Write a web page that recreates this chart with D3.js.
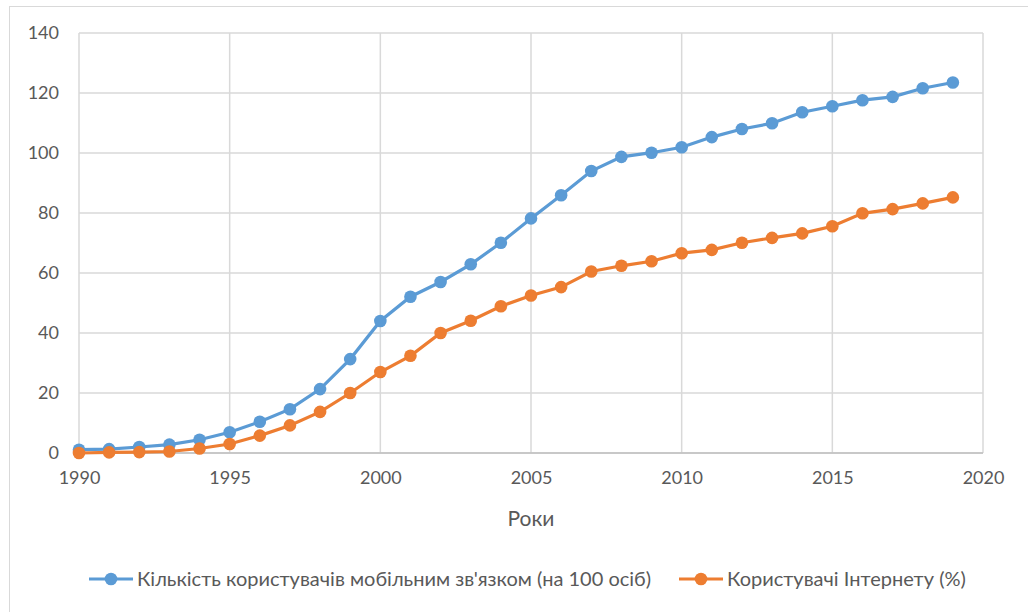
<!DOCTYPE html>
<html>
<head>
<meta charset="utf-8">
<script src="https://cdn.jsdelivr.net/npm/d3@7"></script>
<style>
  body { margin: 0; background: #fff; }
  text { font-family: Lato, "Open Sans", sans-serif; fill: #595959; }
</style>
</head>
<body>
<div id="chart"></div>
<script>
// data
const years = d3.range(1990, 2020);
const mobile = [1.1, 1.3, 2.0, 2.8, 4.4, 6.9, 10.4, 14.6, 21.3, 31.3,
                44.0, 52.1, 57.0, 62.9, 70.1, 78.2, 85.9, 94.0, 98.7, 100.1,
                101.9, 105.3, 108.0, 109.9, 113.6, 115.6, 117.6, 118.7, 121.6, 123.5];
const internet = [0.0, 0.2, 0.3, 0.5, 1.5, 3.0, 5.8, 9.2, 13.7, 20.0,
                  27.0, 32.4, 40.0, 44.1, 48.9, 52.5, 55.3, 60.5, 62.4, 63.9,
                  66.6, 67.7, 70.1, 71.7, 73.2, 75.6, 79.9, 81.3, 83.2, 85.2];
const xTicks = [1990, 1995, 2000, 2005, 2010, 2015, 2020];
const yTicks = [0, 20, 40, 60, 80, 100, 120, 140];
const seriesNames = ["Кількість користувачів мобільним зв'язком (на 100 осіб)", "Користувачі Інтернету (%)"];
const colors = ["#5B9BD5", "#ED7D31"];

const width = 1028, height = 612;
const margin = { top: 33, right: 45, bottom: 159, left: 79 };

const svg = d3.select("#chart").append("svg")
    .attr("width", width)
    .attr("height", height);

// outer chart frame
svg.append("rect")
    .attr("x", 9.5).attr("y", 6.5)
    .attr("width", width + 20).attr("height", height + 20)
    .attr("fill", "none")
    .attr("stroke", "#d9d9d9");

const x = d3.scaleLinear().domain([1990, 2020]).range([margin.left, width - margin.right]);
const y = d3.scaleLinear().domain([0, 140]).range([height - margin.bottom, margin.top]);

// gridlines
svg.append("g").selectAll("line")
    .data(yTicks).enter().append("line")
    .attr("x1", x(1990)).attr("x2", x(2020))
    .attr("y1", d => y(d)).attr("y2", d => y(d))
    .attr("stroke", "#d9d9d9").attr("stroke-width", 1.5);
svg.append("g").selectAll("line")
    .data(xTicks).enter().append("line")
    .attr("x1", d => x(d)).attr("x2", d => x(d))
    .attr("y1", y(0)).attr("y2", y(140))
    .attr("stroke", "#d9d9d9").attr("stroke-width", 1.5);

// axes (labels only, lines come from the grid)
const xAxis = svg.append("g")
    .attr("transform", `translate(0,${y(0)})`)
    .call(d3.axisBottom(x).tickValues(xTicks).tickFormat(d3.format("d")).tickSize(0).tickPadding(18));
const yAxis = svg.append("g")
    .attr("transform", `translate(${margin.left - 2},0)`)
    .call(d3.axisLeft(y).tickValues(yTicks).tickSize(0).tickPadding(18));
[xAxis, yAxis].forEach(a => {
    a.select(".domain").remove();
    a.selectAll("text").style("font-size", "18px").style("fill", "#595959")
        .style("font-family", "Lato, 'Open Sans', sans-serif");
});
svg.append("line")
    .attr("x1", x(1990)).attr("x2", x(2020))
    .attr("y1", y(0)).attr("y2", y(0))
    .attr("stroke", "#bfbfbf").attr("stroke-width", 1.5);

// axis title
svg.append("text")
    .attr("x", (x(1990) + x(2020)) / 2)
    .attr("y", 526)
    .attr("text-anchor", "middle")
    .style("font-size", "21px")
    .text("Роки");

// series
const line = d3.line().x((d, i) => x(years[i])).y(d => y(d));
[mobile, internet].forEach((vals, k) => {
    const g = svg.append("g");
    g.append("path")
        .datum(vals)
        .attr("d", line)
        .attr("fill", "none")
        .attr("stroke", colors[k])
        .attr("stroke-width", 3.2);
    g.selectAll("circle")
        .data(vals).enter().append("circle")
        .attr("cx", (d, i) => x(years[i]))
        .attr("cy", d => y(d))
        .attr("r", 6.3)
        .attr("fill", colors[k]);
});

// legend
const legendY = 579;
const legendX = [89, 679];
seriesNames.forEach((name, k) => {
    const lg = svg.append("g").attr("transform", `translate(${legendX[k]},${legendY})`);
    lg.append("line").attr("x1", 0).attr("x2", 44).attr("y1", 0).attr("y2", 0)
        .attr("stroke", colors[k]).attr("stroke-width", 3.2);
    lg.append("circle").attr("cx", 22).attr("cy", 0).attr("r", 6.3).attr("fill", colors[k]);
    lg.append("text").attr("x", 48).attr("y", 7)
        .style("font-size", "20px")
        .text(name);
});
</script>
</body>
</html>
